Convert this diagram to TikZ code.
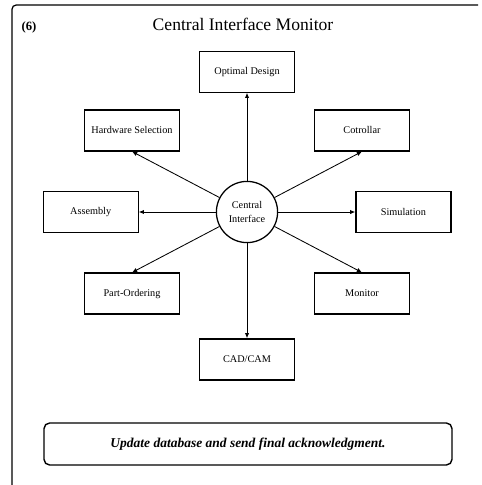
\documentclass[tikz,border=0pt]{standalone}
\usepackage{fontspec}
\setmainfont{Liberation Serif}
\usetikzlibrary{arrows.meta,positioning}
\tikzstyle{mbox}   = [rectangle, draw, line width=0.9pt, minimum width=2.375cm,
                      minimum height=1.025cm, inner sep=1pt,
                      font=\fontsize{7.3}{8}\selectfont]
\tikzstyle{hub}    = [circle, draw, line width=0.9pt, minimum size=1.53cm,
                      inner sep=0pt, align=center, font=\fontsize{7.3}{10}\selectfont]
\tikzstyle{note}   = [rectangle, draw, rounded corners=4pt, line width=1pt,
                      minimum width=10.2cm, minimum height=1.05cm,
                      font=\fontsize{9.6}{11}\selectfont\bfseries\itshape]
\tikzstyle{marrow} = [-{Latex[length=1.3mm,width=1.1mm]}, line width=0.6pt]

\begin{document}
\begin{tikzpicture}[node distance=1.925cm]
\useasboundingbox (0,0) rectangle (12.025,-12.125);
% frame, open at right and bottom
\draw[line width=0.9pt, rounded corners=3pt] (0.3,-12.125) -- (0.3,-0.125) -- (11.95,-0.125);
\node[font=\fontsize{9}{11}\selectfont\bfseries] (num) at (0.725,-0.675) {(6)};
\node[font=\fontsize{12.5}{14}\selectfont] (title) at (6.075,-0.6) {Central Interface Monitor};
% Hub
\node[hub] (ci) at (6.175,-5.3) {Central\\Interface};
% Straight out from the hub
\node[mbox, above=2.2cm of ci] (opt) {Optimal Design};
\node[mbox, below=2.375cm of ci] (cad) {CAD/CAM};
\node[mbox, left=of ci] (asm) {Assembly};
\node[mbox, right=of ci] (sim) {Simulation};
% Diagonals
\node[mbox, on grid, above left=2.04cm and 2.875cm of ci] (hw) {Hardware Selection};
\node[mbox, on grid, above right=2.04cm and 2.875cm of ci] (ctl) {Cotrollar};
\node[mbox, on grid, below left=2.04cm and 2.875cm of ci] (po) {Part-Ordering};
\node[mbox, on grid, below right=2.04cm and 2.875cm of ci] (mon) {Monitor};
% Final step
\node[note] (upd) at (6.2,-11.1) {Update database and send final acknowledgment.};
% Arrows
\draw[marrow] (ci) -- (opt.south);
\draw[marrow] (ci) -- (hw.south);
\draw[marrow] (ci) -- (ctl.south);
\draw[marrow] (ci) -- (asm.east);
\draw[marrow] (ci) -- (sim.west);
\draw[marrow] (ci) -- (po.north);
\draw[marrow] (ci) -- (mon.north);
\draw[marrow] (ci) -- (cad.north);
\end{tikzpicture}
\end{document}
